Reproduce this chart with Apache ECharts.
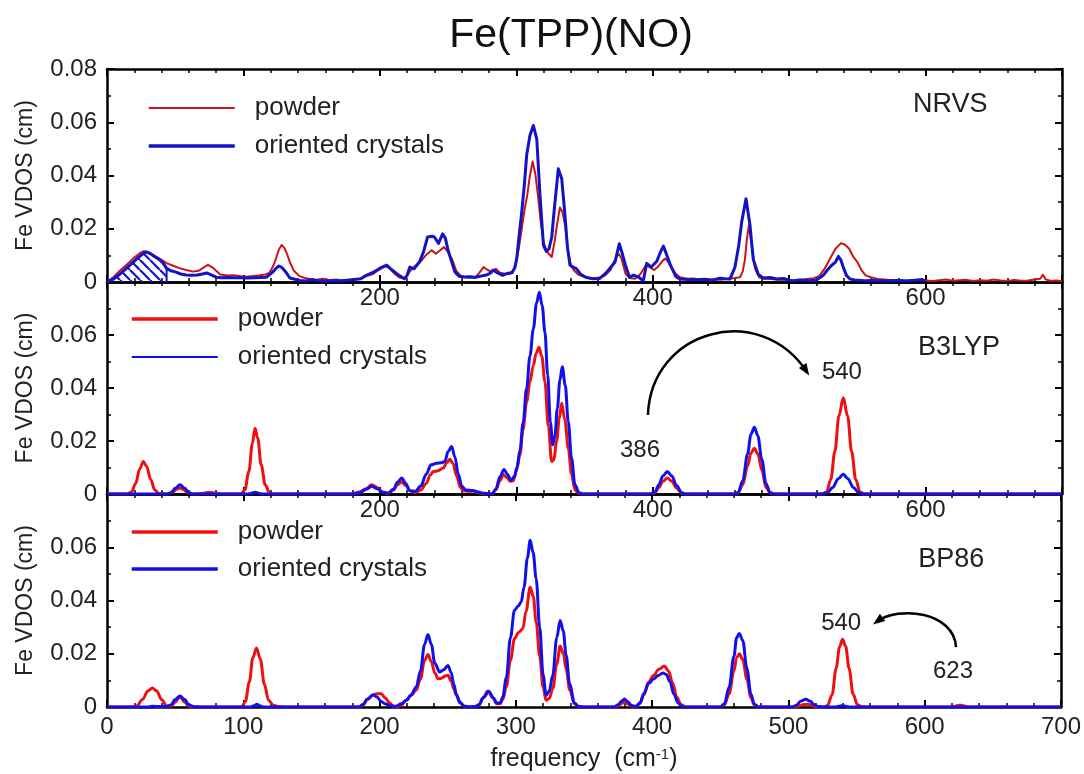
<!DOCTYPE html>
<html>
<head>
<meta charset="utf-8">
<script src="https://cdn.jsdelivr.net/npm/echarts@6/dist/echarts.min.js"></script>
<style>
  html, body { margin: 0; padding: 0; background: #fff; }
  #chart { width: 1084px; height: 774px; }
</style>
</head>
<body>
<div id="chart"></div>
<script>
const FONT = '"Liberation Sans", Arial, Helvetica, sans-serif';

// ---- axes and labels ----
const freqMin = 0, freqMax = 700, freqStep = 100;
const freqLabelsInner = [200, 400, 600];
const freqLabelsBottom = [0, 100, 200, 300, 400, 500, 600, 700];
const vdosTicksTop = [0, 0.02, 0.04, 0.06, 0.08];
const vdosTicksLower = [0, 0.02, 0.04, 0.06];
const panelNames = ['NRVS', 'B3LYP', 'BP86'];
const seriesNames = ['powder', 'oriented crystals'];

// ---- NRVS (measured) Fe VDOS, [frequency cm-1, VDOS cm] ----
const nrvsPowder = [[0,0],[5,0.002],[10,0.0045],[15,0.0068],[20,0.0092],[24,0.0108],[27,0.0116],[30,0.0112],[35,0.0098],[40,0.0083],[44,0.007],[48,0.0062],[53,0.0052],[58,0.0045],[63,0.0039],[67,0.0042],[71,0.0055],[74,0.0064],[78,0.0052],[83,0.0028],[88,0.0024],[93,0.0025],[98,0.0022],[102,0.002],[107,0.0023],[112,0.0025],[116,0.0028],[119,0.0034],[122,0.0062],[124,0.009],[126,0.0122],[128,0.0139],[130,0.0128],[132,0.0105],[134,0.0075],[137,0.0042],[141,0.0022],[145,0.0015],[149,0.0011],[153,0.0008],[158,0.0012],[163,0.0007],[168,0.0009],[173,0.0005],[178,0.0008],[182,0.0009],[186,0.0012],[190,0.0022],[195,0.003],[199,0.0045],[204,0.006],[207,0.0052],[211,0.003],[214,0.0018],[218,0.0012],[222,0.004],[226,0.006],[230,0.0078],[234,0.0102],[238,0.0119],[241,0.0106],[244,0.0118],[247,0.0131],[250,0.0112],[253,0.0085],[256,0.0042],[259,0.0025],[262,0.0018],[266,0.0017],[270,0.0016],[273,0.0035],[276,0.0056],[279,0.0045],[282,0.0038],[285,0.005],[288,0.0035],[291,0.0032],[295,0.003],[298,0.0045],[300,0.0076],[302,0.013],[304,0.02],[306,0.027],[308,0.0325],[310,0.04],[312,0.0453],[314,0.0405],[316,0.032],[318,0.022],[320,0.015],[322,0.0119],[324,0.0105],[326,0.0094],[328,0.015],[330,0.022],[332,0.028],[334,0.026],[336,0.0205],[338,0.0115],[340,0.0063],[342,0.0045],[345,0.003],[348,0.0022],[352,0.0015],[356,0.0013],[361,0.0017],[365,0.0024],[369,0.0045],[372,0.008],[375,0.0106],[377,0.009],[380,0.0032],[383,0.0015],[387,0.0012],[391,0.003],[395,0.0063],[398,0.0055],[401,0.0045],[404,0.0058],[407,0.0078],[409,0.0088],[411,0.0078],[414,0.0052],[417,0.003],[420,0.0018],[425,0.0012],[430,0.0013],[435,0.0008],[440,0.001],[445,0.0009],[450,0.0008],[455,0.0012],[460,0.0015],[464,0.0018],[466,0.004],[467.6,0.0085],[469,0.016],[470.5,0.0213],[472.5,0.014],[475,0.005],[478,0.0018],[482,0.0012],[487,0.0011],[492,0.0008],[497,0.0009],[503,0.0006],[508,0.0008],[513,0.0011],[518,0.0014],[522,0.0022],[526,0.005],[530,0.0088],[534,0.0125],[538,0.0146],[541,0.014],[544,0.0125],[547,0.0095],[550,0.0075],[553,0.0045],[556,0.0025],[560,0.0018],[565,0.0011],[570,0.0009],[575,0.0007],[580,0.0008],[585,0.0006],[590,0.0005],[595,0.0008],[600,0.0006],[605,0.0004],[610,0.0007],[615,0.0009],[620,0.0005],[625,0.0007],[630,0.0008],[635,0.0004],[640,0.0007],[645,0.0005],[650,0.0009],[655,0.0006],[660,0.0004],[665,0.0008],[670,0.0005],[675,0.0006],[680,0.0009],[684,0.0012],[686,0.0027],[688,0.001],[692,0.0004],[696,0.0006],[700,0.0003]];

const nrvsCrystal = [[0,0],[5,0.0012],[10,0.0032],[15,0.0055],[20,0.0078],[24,0.0097],[27,0.0108],[29,0.0113],[32,0.0106],[35,0.0095],[38,0.0086],[41,0.0072],[43.7,0.0051],[47,0.0042],[50,0.0038],[54,0.003],[58,0.0026],[62,0.0025],[66,0.0026],[70,0.003],[73,0.0034],[76,0.0028],[80,0.0018],[84,0.0016],[88,0.0017],[93,0.0016],[98,0.0016],[103,0.0015],[108,0.0016],[113,0.0017],[117,0.0018],[121,0.0035],[124,0.0052],[126,0.006],[128,0.0055],[131,0.0038],[134,0.0015],[137,0.0011],[141,0.0006],[146,0.0004],[150,0.0009],[155,0.0005],[160,0.0003],[165,0.0006],[170,0.0004],[176,0.0007],[181,0.0009],[186,0.0012],[190,0.0025],[195,0.0036],[200,0.0052],[205,0.0063],[209,0.0045],[214,0.0025],[218,0.0012],[220,0.0025],[222,0.0056],[225,0.005],[229,0.0075],[232,0.0113],[235,0.0169],[238,0.0172],[240,0.0169],[243,0.0145],[246,0.0181],[248,0.0165],[250,0.0119],[253,0.007],[255,0.0038],[258,0.0022],[262,0.0019],[266,0.002],[270,0.0018],[274,0.0022],[278,0.0026],[281,0.0033],[283,0.0045],[286,0.0035],[290,0.0025],[294,0.0033],[297,0.0035],[299,0.0055],[300.3,0.0088],[302,0.017],[304,0.0263],[306,0.037],[307.6,0.0476],[310,0.055],[312.5,0.0588],[315,0.0538],[317.4,0.0325],[319.9,0.0138],[322,0.0115],[324,0.0125],[326,0.0169],[328,0.028],[330.8,0.0425],[333.3,0.0388],[335.7,0.025],[337.5,0.013],[339.4,0.0063],[342,0.0055],[344,0.005],[347,0.003],[351,0.0018],[356,0.0012],[361,0.0013],[366,0.0035],[370,0.006],[372.4,0.0075],[375.5,0.0144],[377.5,0.011],[380,0.0063],[383,0.0018],[386,0.0026],[390,0.0017],[393,0.0004],[395.6,0.007],[399,0.0056],[403,0.0078],[405.5,0.011],[407.8,0.0135],[410,0.0105],[413,0.0063],[417,0.002],[420,0.0011],[426,0.0009],[432,0.0008],[438,0.001],[443,0.0006],[449,0.0014],[453,0.0012],[456.6,0.0011],[460.3,0.0056],[463,0.0135],[465.2,0.0225],[468.4,0.0313],[471.3,0.0213],[473.7,0.0085],[477.4,0.0028],[481,0.0015],[486,0.0017],[491,0.0011],[496,0.0013],[502,0.0004],[508,0.0008],[514,0.0005],[520,0.0007],[525,0.0025],[528,0.0045],[531.2,0.0063],[534,0.0075],[536.1,0.0096],[538,0.0082],[539.7,0.0055],[542,0.0025],[544.6,0.0011],[548,0.0008],[555,0.0005],[562,0.0006],[570,0.0004],[578,0.0006],[585,0.0004],[592,0.0007],[597.6,0.0009],[600,0.0003]];

// low-frequency band of the crystal spectrum shown hatched
const hatchEnd = 43.7;

// ---- B3LYP (calculated) ----
const b3lypPowder = [[0,0],[15,0],[18,0.0008],[21,0.004],[24,0.0095],[26.6,0.0123],[29,0.0105],[32,0.0055],[35,0.0015],[38,0.0002],[44,0],[48,0.0006],[51,0.0018],[53.5,0.0023],[56,0.0017],[59,0.0005],[63,0],[70,0.0002],[75,0.0007],[80,0.0002],[85,0],[98,0],[101,0.0015],[104,0.0085],[106.5,0.019],[108.5,0.0248],[110.5,0.021],[113,0.011],[116,0.0035],[119,0.0005],[122,0],[180,0],[185,0.0008],[190,0.002],[194,0.0035],[198,0.0025],[202,0.0008],[206,0.0002],[210,0.0015],[213,0.0035],[216,0.0045],[219,0.0032],[222,0.0012],[226,0.0006],[230,0.0015],[234,0.004],[237,0.0072],[239.2,0.0085],[242,0.0087],[246.5,0.0098],[249,0.0118],[251.4,0.0131],[253.5,0.0115],[256.3,0.0068],[259,0.0025],[261.2,0.0012],[265,0.001],[268.5,0.0011],[272,0.0006],[276,0.0001],[282,0],[285,0.0015],[288,0.005],[290.5,0.0073],[293,0.0063],[295.5,0.0048],[297.8,0.005],[300,0.0085],[302.7,0.0148],[305,0.0245],[307.6,0.0348],[310,0.0425],[312.5,0.0485],[314.5,0.053],[316.6,0.0554],[318.7,0.052],[321,0.0423],[323.5,0.0255],[325.9,0.0123],[327.5,0.013],[329.6,0.02],[331.5,0.0285],[333.3,0.0342],[335.6,0.028],[338.1,0.0173],[340.5,0.0075],[343,0.0015],[346,0.0002],[349,0],[398,0],[401.7,0.0005],[404.5,0.0025],[407.5,0.0048],[410.7,0.006],[414,0.0048],[417.5,0.0022],[421.2,0.0003],[424,0],[460,0],[462.6,0.0004],[466,0.0035],[469.5,0.0105],[472,0.0155],[474.5,0.0173],[477,0.0152],[480,0.009],[483,0.0025],[486,0.0004],[489,0],[524,0],[527.5,0.0008],[530.5,0.0055],[533.5,0.016],[536.5,0.0295],[539.7,0.0363],[542.8,0.0295],[545.8,0.016],[548.8,0.0055],[551.9,0.0008],[555,0],[700,0]];

const b3lypCrystal = [[0,0],[44,0],[47,0.0005],[50,0.0022],[53.5,0.0035],[57,0.0022],[60,0.0005],[63,0],[103,0],[106,0.0003],[108.5,0.0007],[111,0.0003],[114,0],[180,0],[185,0.0004],[190,0.0018],[194,0.0029],[198,0.002],[202,0.0006],[206,0.0003],[210,0.0018],[213,0.0045],[216,0.006],[219,0.004],[222,0.0012],[226,0.001],[230,0.003],[234,0.0075],[237.5,0.011],[241.6,0.0116],[245,0.0118],[247.7,0.0123],[250,0.016],[252.6,0.0179],[255,0.014],[257.5,0.0075],[260,0.003],[263,0.0015],[268,0.0013],[272,0.0008],[276,0.0003],[282,0],[285,0.0018],[288,0.0065],[291,0.0092],[293.5,0.0075],[296,0.0052],[298.5,0.0065],[300.5,0.01],[302.7,0.0165],[305,0.027],[307.6,0.04],[310,0.052],[312.5,0.0623],[314.8,0.072],[316.9,0.0761],[319,0.071],[321,0.061],[323,0.045],[325,0.027],[326.7,0.0185],[328.3,0.022],[330.1,0.0323],[332,0.043],[333.7,0.048],[335.9,0.041],[338.1,0.0273],[340.5,0.0135],[343,0.0035],[346,0.0005],[349,0],[398,0],[401.7,0.0008],[404.5,0.0035],[407.5,0.0068],[410.7,0.0085],[414,0.0068],[417.5,0.0032],[421.2,0.0005],[424,0],[460,0],[462.6,0.0006],[466,0.005],[469.5,0.015],[472,0.0225],[474.5,0.0252],[477,0.022],[480,0.013],[483,0.004],[486,0.0006],[489,0],[524,0],[528,0.0005],[532,0.0025],[536,0.0058],[539.7,0.0075],[543,0.0058],[547,0.0025],[551,0.0005],[555,0],[700,0]];

// ---- BP86 (calculated) ----
const bp86Powder = [[0,0],[20,0],[22,0.0005],[26,0.0028],[30,0.006],[33.2,0.0071],[36.5,0.006],[40,0.0028],[43.7,0.0005],[47,0.0003],[50,0.0018],[53.5,0.0038],[57,0.0018],[60,0.0003],[64,0],[98.7,0],[101.5,0.002],[104.5,0.0095],[107,0.0185],[109.7,0.0222],[112.5,0.018],[115.5,0.0085],[118.5,0.0025],[122,0.0007],[126,0.0002],[130,0],[185,0],[188,0.0008],[191,0.0028],[195.2,0.0044],[198,0.005],[201.3,0.005],[204,0.0035],[207.4,0.0015],[210,0.0003],[212.3,0],[216,0.0008],[219.6,0.0025],[223,0.0042],[226.9,0.0063],[230,0.0105],[233,0.0175],[235.5,0.0197],[238,0.017],[240.5,0.0128],[242.9,0.0106],[245.5,0.0108],[248,0.0116],[250.2,0.0119],[252.5,0.0098],[254.5,0.0068],[256.3,0.0044],[259,0.0015],[262,0.0003],[266,0],[270,0.0002],[273,0.0008],[276,0.0035],[279.5,0.006],[283,0.0035],[286,0.0012],[288.5,0.0012],[290.4,0.0028],[293,0.0075],[296,0.0175],[299,0.0257],[302,0.028],[305.1,0.0294],[307.5,0.036],[310.5,0.045],[312.8,0.0415],[314.9,0.0319],[317.5,0.019],[320,0.0075],[322.2,0.0025],[324.5,0.0032],[327.1,0.0068],[330,0.016],[332.5,0.0229],[334.8,0.02],[336.9,0.0144],[339.5,0.0065],[343,0.0012],[346,0.0002],[350,0],[372,0],[375,0.0004],[377.5,0.0013],[379.8,0.0019],[382,0.0012],[385,0.0003],[388,0.0001],[391,0.0012],[394,0.0045],[397.4,0.0094],[401,0.0118],[405,0.0142],[409,0.0154],[412,0.0135],[415.1,0.009],[418,0.0038],[421.2,0.0008],[425,0],[450,0],[453,0.0008],[456.5,0.005],[460,0.0135],[462,0.0185],[464,0.02],[466.5,0.0178],[469.5,0.0105],[472.5,0.0035],[475,0.0008],[478,0],[505,0],[508,0.0004],[511,0.0009],[513,0.001],[515,0.0009],[518,0.0004],[521,0],[526,0],[528.7,0.0006],[532,0.0045],[535,0.0145],[537.5,0.0225],[539.7,0.0254],[542,0.0228],[544.5,0.0145],[547.5,0.0048],[550.7,0.0008],[554,0.0001],[557,0],[620,0],[623,0.0004],[626,0.0007],[629,0.0004],[632,0],[700,0]];

const bp86Crystal = [[0,0],[30,0],[33,0.0003],[36,0.0002],[44,0.0002],[47,0.0008],[50,0.0028],[53.5,0.0041],[57,0.0028],[60,0.0008],[64,0.0001],[68,0],[105,0],[108,0.0005],[110,0.001],[112,0.0005],[115,0],[185,0],[188,0.001],[191,0.003],[195.2,0.0046],[198,0.0038],[201,0.0022],[204,0.0012],[207.4,0.0005],[212,0.0003],[216,0.0012],[219.6,0.0025],[223,0.0045],[226.9,0.0075],[230,0.0135],[233,0.0235],[235.5,0.0272],[238,0.0235],[240.5,0.0165],[244.1,0.0131],[247,0.014],[250.2,0.0156],[252.5,0.013],[254.5,0.0085],[256.3,0.0048],[259,0.0018],[262,0.0004],[266,0],[270,0.0002],[273,0.0008],[276,0.0035],[280.3,0.0058],[283.5,0.0035],[286,0.0015],[288.5,0.0016],[290.4,0.0038],[293,0.011],[296,0.026],[299,0.0363],[301.5,0.0378],[303.9,0.0394],[306,0.045],[308.5,0.056],[310.5,0.0626],[312.7,0.058],[314.9,0.0482],[317.5,0.03],[320,0.012],[322.2,0.0044],[324.5,0.006],[327.1,0.0119],[330,0.026],[332.5,0.0325],[334.8,0.0285],[336.9,0.0194],[339.5,0.0085],[343,0.0015],[346,0.0002],[350,0],[372,0],[375,0.0008],[377.5,0.0022],[379.8,0.003],[382,0.002],[385,0.0006],[388,0.0002],[391,0.0015],[394,0.0052],[397.4,0.0088],[401,0.0105],[404.5,0.0118],[407.8,0.0128],[410.5,0.0122],[413,0.0095],[416,0.0048],[419,0.0015],[422,0.0002],[425,0],[450,0],[453,0.0012],[456.5,0.0075],[460,0.019],[462,0.026],[464,0.0276],[466.5,0.025],[469.5,0.0145],[472.5,0.0048],[475,0.001],[478,0],[503,0],[506,0.0007],[509,0.0022],[512.8,0.0029],[516,0.0022],[519,0.0008],[522,0.0002],[526,0],[534,0],[537,0.0003],[539.7,0.0006],[542,0.0003],[545,0],[700,0]];

// ---- annotations, anchored in data coordinates of each panel ----
const notes = [
  { grid: 0, text: panelNames[0], at: [590.8, 0.0665], size: 27, align: 'left' },
  { grid: 1, text: panelNames[1], at: [594.4, 0.0551], size: 27, align: 'left' },
  { grid: 2, text: panelNames[2], at: [595.2, 0.0552], size: 27, align: 'left' },
  { grid: 1, text: '386', at: [390.7, 0.0166], size: 24, align: 'center' },
  { grid: 1, text: '540', at: [538.7, 0.0458], size: 24, align: 'center' },
  { grid: 2, text: '540', at: [538.7, 0.0314], size: 24, align: 'center' },
  { grid: 2, text: '623', at: [620.8, 0.0135], size: 24, align: 'center' }
];
// curved arrows: start, control 1, control 2, end (arrow head at end)
const arrows = [
  { grid: 1, pts: [[396.5, 0.0298], [398.7, 0.0622], [478.6, 0.0731], [513.1, 0.046]] },
  { grid: 2, pts: [[623.0, 0.0225], [621.6, 0.0357], [581.2, 0.0383], [564.4, 0.0319]] }
];

// ---- styling ----
const TXT = '#222';
const panelColors = [
  { powder: '#cc1414', crystal: '#1212c8', powderW: 2, crystalW: 3 },
  { powder: '#ee1010', crystal: '#1010ee', powderW: 3, crystalW: 3 },
  { powder: '#ee1010', crystal: '#1010ee', powderW: 3, crystalW: 3 }
];
const legendBoxes = [
  { left: 147, top: 93, itemGap: 8, powderW: 2, crystalW: 3.5 },
  { left: 130, top: 304, itemGap: 8, powderW: 3.5, crystalW: 2 },
  { left: 130, top: 517, itemGap: 7, powderW: 3.5, crystalW: 3.5 }
];
const grids = [
  { left: 107, right: 22, top: 69, height: 213 },
  { left: 107, right: 22, top: 282, height: 212 },
  { left: 107, right: 22, top: 494, height: 213 }
];

// diagonal hatch tile
function hatchPattern(color) {
  const c = document.createElement('canvas');
  c.width = 10; c.height = 10;
  const g = c.getContext('2d');
  g.strokeStyle = color; g.lineWidth = 2.2;
  for (const x0 of [-10, 0, 10]) {
    g.beginPath(); g.moveTo(x0, 0); g.lineTo(x0 + 10, 10); g.stroke();
  }
  return c;
}

function pickTick(ticks, v) {
  const t = ticks.find(t => Math.abs(t - v) < 1e-9);
  if (t === undefined) return '';
  return t === 0 ? '0' : t.toFixed(2);
}

const axisLine = { show: true, onZero: false, lineStyle: { color: '#000', width: 2.5 } };
const tick = { show: true, inside: true, length: 7, lineStyle: { color: '#000', width: 2 } };

const xAxis = [], yAxis = [];
grids.forEach((g, i) => {
  const isLast = i === grids.length - 1;
  xAxis.push({
    type: 'value', gridIndex: i, position: 'bottom',
    min: freqMin, max: freqMax, interval: freqStep,
    axisLine, axisTick: tick,
    minorTick: { show: true, splitNumber: 5, length: 4, lineStyle: { color: '#000', width: 1.5 } },
    splitLine: { show: false },
    axisLabel: {
      fontSize: 24, fontFamily: FONT, color: TXT, margin: isLast ? 8 : 4,
      formatter: v => (isLast ? freqLabelsBottom : freqLabelsInner).includes(v) ? String(v) : ''
    },
    name: isLast ? 'frequency  (cm{sup|-1})' : '',
    nameLocation: 'middle', nameGap: 40,
    nameTextStyle: {
      fontSize: 25, fontFamily: FONT, color: TXT,
      rich: { sup: { fontSize: 15, fontFamily: FONT, color: TXT, verticalAlign: 'top', lineHeight: 14 } }
    }
  });
  xAxis.push({
    type: 'value', gridIndex: i, position: 'top',
    min: freqMin, max: freqMax, interval: freqStep,
    axisLine, axisTick: tick,
    minorTick: { show: true, splitNumber: 5, length: 4, lineStyle: { color: '#000', width: 1.5 } },
    splitLine: { show: false }, axisLabel: { show: false }
  });
  const ticks = i === 0 ? vdosTicksTop : vdosTicksLower;
  yAxis.push({
    type: 'value', gridIndex: i, position: 'left',
    min: 0, max: 0.08, interval: 0.02,
    axisLine, axisTick: tick,
    minorTick: { show: true, splitNumber: 2, length: 4, lineStyle: { color: '#000', width: 1.5 } },
    splitLine: { show: false },
    axisLabel: { fontSize: 24, fontFamily: FONT, color: TXT, margin: 10, formatter: v => pickTick(ticks, v) },
    name: 'Fe VDOS (cm)', nameLocation: 'middle', nameGap: 70,
    nameTextStyle: { fontSize: 23, fontFamily: FONT, color: TXT }
  });
  yAxis.push({
    type: 'value', gridIndex: i, position: 'right',
    min: 0, max: 0.08, interval: 0.02,
    axisLine, axisTick: tick,
    minorTick: { show: true, splitNumber: 2, length: 4, lineStyle: { color: '#000', width: 1.5 } },
    splitLine: { show: false }, axisLabel: { show: false }
  });
});

function lineSeries(name, data, panel, color, width, smooth, z) {
  return {
    name, type: 'line', data, xAxisIndex: panel * 2, yAxisIndex: panel * 2,
    symbol: 'none', smooth, smoothMonotone: 'x', silent: true, z,
    lineStyle: { color, width, join: 'round' }, itemStyle: { color }
  };
}

const panelData = [
  [nrvsPowder, nrvsCrystal, false],
  [b3lypPowder, b3lypCrystal, 0.35],
  [bp86Powder, bp86Crystal, 0.35]
];

const series = [];
panelData.forEach(([pw, cr, sm], i) => {
  const c = panelColors[i];
  series.push(lineSeries(seriesNames[0], pw, i, c.powder, c.powderW, sm, 2));
  if (i === 0) {
    const band = cr.filter(p => p[0] <= hatchEnd).concat([[hatchEnd, 0]]);
    series.push({
      type: 'line', data: band, xAxisIndex: 0, yAxisIndex: 0, symbol: 'none', silent: true, z: 3,
      lineStyle: { color: c.crystal, width: 2 },
      areaStyle: { color: { image: hatchPattern(c.crystal), repeat: 'repeat' }, opacity: 1 }
    });
  }
  series.push(lineSeries(seriesNames[1], cr, i, c.crystal, c.crystalW, sm, 4));
});

// legend sample lines: 86 px long, thickness per panel, no point marker
const legend = legendBoxes.map((b, i) => ({
  left: b.left, top: b.top, orient: 'vertical', padding: 0,
  itemWidth: 86, itemHeight: 14, itemGap: b.itemGap, selectedMode: false,
  textStyle: { fontSize: 26, fontFamily: FONT, color: TXT, lineHeight: 30, padding: [0, 0, 0, 15] },
  data: [
    { name: seriesNames[0], itemStyle: { color: panelColors[i].powder, opacity: 0 },
      lineStyle: { color: panelColors[i].powder, width: b.powderW, opacity: 1 } },
    { name: seriesNames[1], itemStyle: { color: panelColors[i].crystal, opacity: 0 },
      lineStyle: { color: panelColors[i].crystal, width: b.crystalW, opacity: 1 } }
  ]
}));

const chart = echarts.init(document.getElementById('chart'), null, { renderer: 'canvas' });
chart.setOption({
  backgroundColor: '#fff',
  animation: false,
  title: {
    text: 'Fe(TPP)(NO)', left: 566, top: 10, textAlign: 'center',
    textStyle: { fontSize: 41, fontWeight: 'normal', fontFamily: FONT, color: '#111' }
  },
  grid: grids,
  xAxis, yAxis, legend, series
});

// annotations drawn in pixel space from their data anchors
const graphic = [];
notes.forEach(n => {
  const [x, y] = chart.convertToPixel({ gridIndex: n.grid }, n.at);
  graphic.push({
    type: 'text', z: 50, silent: true,
    style: {
      text: n.text, x, y, font: `${n.size}px ${FONT}`, fill: TXT,
      align: n.align, verticalAlign: 'middle', textAlign: n.align, textVerticalAlign: 'middle'
    }
  });
});
arrows.forEach(a => {
  const p = a.pts.map(pt => chart.convertToPixel({ gridIndex: a.grid }, pt));
  graphic.push({
    type: 'bezierCurve', z: 50, silent: true,
    shape: { x1: p[0][0], y1: p[0][1], cpx1: p[1][0], cpy1: p[1][1], cpx2: p[2][0], cpy2: p[2][1], x2: p[3][0], y2: p[3][1] },
    style: { stroke: '#000', lineWidth: 2.5, fill: null }
  });
  const dx = p[3][0] - p[2][0], dy = p[3][1] - p[2][1];
  const L = Math.hypot(dx, dy), ux = dx / L, uy = dy / L;
  const tip = [p[3][0] + ux * 4, p[3][1] + uy * 4];
  const base = [p[3][0] - ux * 8, p[3][1] - uy * 8];
  graphic.push({
    type: 'polygon', z: 51, silent: true,
    shape: { points: [tip, [base[0] - uy * 4.5, base[1] + ux * 4.5], [base[0] + uy * 4.5, base[1] - ux * 4.5]] },
    style: { fill: '#000' }
  });
});
chart.setOption({ graphic });
</script>
</body>
</html>
